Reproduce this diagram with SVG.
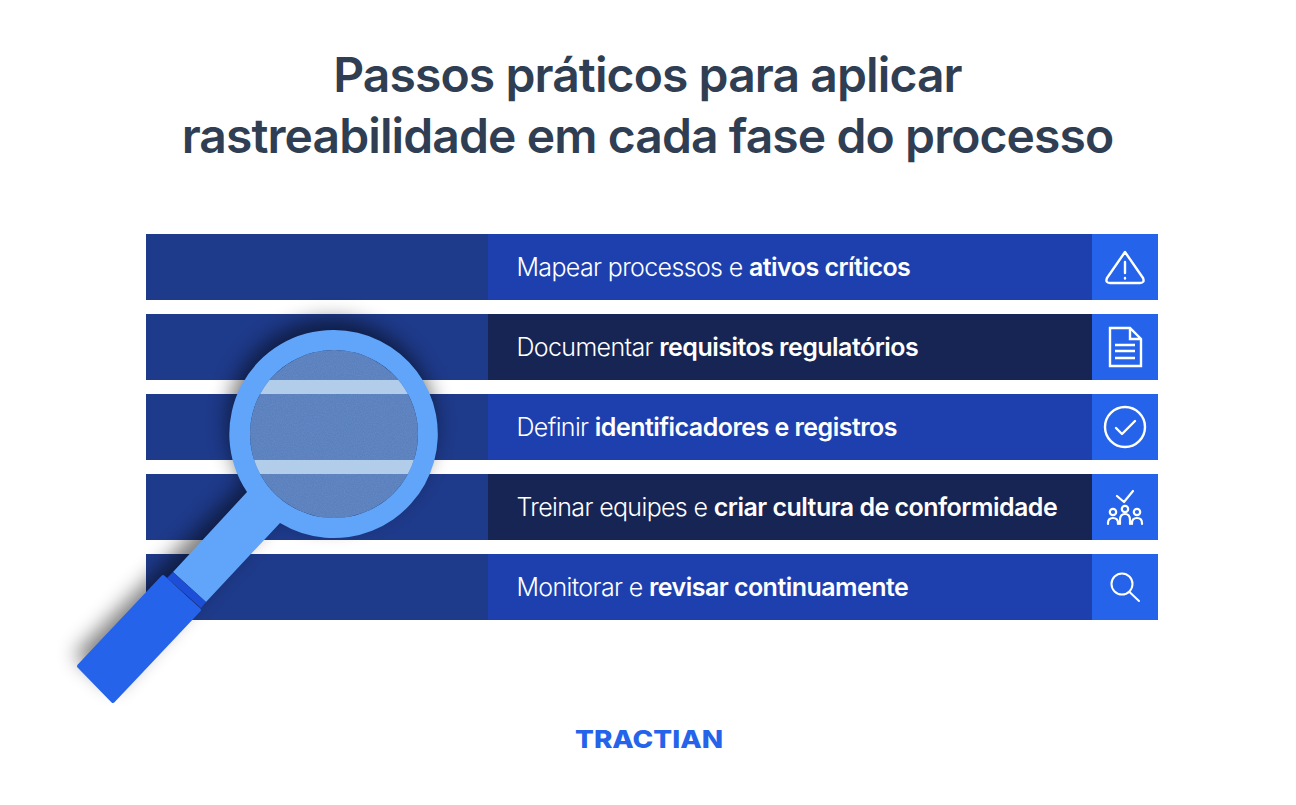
<svg xmlns="http://www.w3.org/2000/svg" width="1296" height="805" viewBox="0 0 1296 805">
<style>
.t{font-family:Inter,"Noto Sans",sans-serif;font-size:25px;fill:#fff;font-weight:300;letter-spacing:-.65px}
.t tspan{font-weight:600;letter-spacing:-.53px}
.h{font-family:Inter,"Noto Sans",sans-serif;font-size:48px;font-weight:600;fill:#2f3e52;text-anchor:middle;letter-spacing:-.9px}
.l{fill:#1e3a8a}.m{fill:#1e40af}.d{fill:#172554}.i{fill:#2563eb}
.s{fill:none;stroke:#fff;stroke-width:2.400;stroke-linecap:round;stroke-linejoin:round}
</style>
<defs>
<filter id="blur" x="-30%" y="-30%" width="160%" height="160%"><feGaussianBlur stdDeviation="10"/></filter>
<filter id="noise" x="0" y="0" width="100%" height="100%"><feTurbulence type="fractalNoise" baseFrequency="0.9" numOctaves="2" seed="3"/><feColorMatrix values="0 0 0 0 0.25 0 0 0 0 0.4 0 0 0 0 0.7 0 0 0 0.35 -0.1"/><feComposite in2="SourceGraphic" operator="in"/><feMerge><feMergeNode in="SourceGraphic"/><feMergeNode/></feMerge></filter>
<clipPath id="lens"><circle cx="334" cy="434" r="84"/></clipPath>
</defs>
<rect width="1296" height="805" fill="#fff"/>
<g id="title"><text class="h" x="647.500" y="92">Passos práticos para aplicar</text><text class="h" x="647.500" y="153">rastreabilidade em cada fase do processo</text></g>
<g id="row1"><rect class="l" x="146" y="234" width="342" height="66"/><rect class="m" x="488" y="234" width="604" height="66"/><rect class="i" x="1092" y="234" width="66" height="66"/><text class="t" x="516.500" y="276">Mapear processos e <tspan>ativos críticos</tspan></text>
<path class="s" d="M1125 252L1143 278Q1145 283 1140 283H1110Q1105 283 1107 278ZM1125 262V273M1125 278V278.500"/></g>
<g id="row2"><rect class="l" x="146" y="314" width="342" height="66"/><rect class="d" x="488" y="314" width="604" height="66"/><rect class="i" x="1092" y="314" width="66" height="66"/><text class="t" x="516.500" y="356">Documentar <tspan>requisitos regulatórios</tspan></text>
<path class="s" style="stroke-linecap:butt;stroke-linejoin:miter" d="M1110 328H1130L1141 339V366H1110ZM1130 328V339H1141M1115 345H1135M1115 351H1135M1115 358H1135"/></g>
<g id="row3"><rect class="l" x="146" y="394" width="342" height="66"/><rect class="m" x="488" y="394" width="604" height="66"/><rect class="i" x="1092" y="394" width="66" height="66"/><text class="t" x="516.500" y="436">Definir <tspan>identificadores e registros</tspan></text>
<circle class="s" cx="1125" cy="427" r="20"/><path class="s" d="M1116 428L1122 434L1135 421"/></g>
<g id="row4"><rect class="l" x="146" y="474" width="342" height="66"/><rect class="d" x="488" y="474" width="604" height="66"/><rect class="i" x="1092" y="474" width="66" height="66"/><text class="t" x="516.500" y="516">Treinar equipes e <tspan>criar cultura de conformidade</tspan></text>
<path class="s" style="stroke-width:2.200" d="M1117 496L1124 502L1133 491M1108 524V523Q1108 518 1113 518Q1118 518 1118 523V524M1120 524V520Q1120 514 1125 514Q1130 514 1130 520V524M1132 524V523Q1132 518 1137 518Q1142 518 1142 523V524"/><g class="s" style="stroke-width:2.200"><circle cx="1113" cy="512" r="3.200"/><circle cx="1125" cy="509" r="3.200"/><circle cx="1137" cy="512" r="3.200"/></g></g>
<g id="row5"><rect class="l" x="146" y="554" width="342" height="66"/><rect class="m" x="488" y="554" width="604" height="66"/><rect class="i" x="1092" y="554" width="66" height="66"/><text class="t" x="516.500" y="596">Monitorar e <tspan>revisar continuamente</tspan></text>
<circle class="s" style="stroke-width:2" cx="1122" cy="584" r="10.500"/><path class="s" style="stroke-width:2" d="M1129.500 592L1139 601"/></g>
<g id="magnifier">
<g opacity=".5" filter="url(#blur)" transform="translate(-3 -11)"><circle cx="334" cy="434" r="104"/><path d="M247 492L280 523L117 700L77 666Z"/></g>
<circle cx="334" cy="434" r="84" fill="#5a80bd" filter="url(#noise)"/>
<g clip-path="url(#lens)"><rect x="240" y="380" width="190" height="14" fill="#b2cde9"/><rect x="240" y="460" width="190" height="14" fill="#b2cde9"/></g>
<path fill="#60a5fa" fill-rule="evenodd" d="M334 330A104 104 0 1 1 280 523L206 602L173 572L247 492A104 104 0 0 1 334 330ZM334 350A84 84 0 1 0 334.010 350Z"/>
<path fill="#1d4ed8" d="M173 572L206 602L201 608L167 578Z"/>
<path fill="#2563eb" stroke="#2563eb" stroke-width="4" stroke-linejoin="round" d="M163 577L199 610L113 701L79 666Z"/>
</g>
<g id="logo"><text x="575" y="748" font-family="Inter,'Noto Sans',sans-serif" font-size="25" font-weight="800" fill="#2563eb" textLength="148" lengthAdjust="spacingAndGlyphs">TRACTIAN</text></g>
</svg>
